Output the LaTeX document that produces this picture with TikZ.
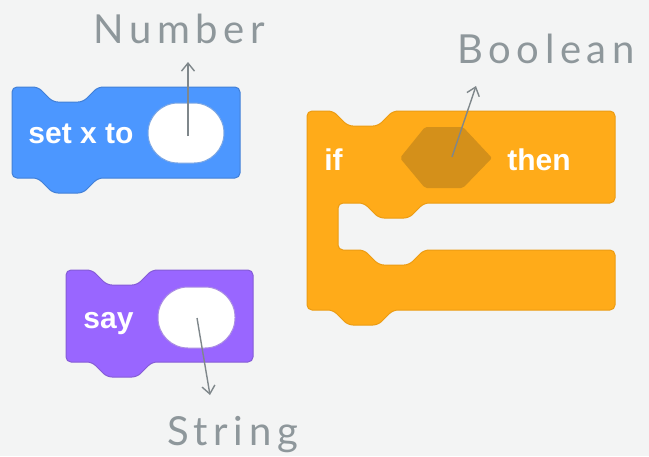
\documentclass[tikz,border=0pt]{standalone}
\usepackage{fontspec}
\setmainfont{Liberation Sans}
\newfontfamily\labelfont[LetterSpace=14]{Lato}
\usetikzlibrary{arrows.meta}
\definecolor{bgc}{HTML}{F3F4F4}
\definecolor{motion}{HTML}{4C97FF}
\definecolor{motionE}{HTML}{4280D7}
\definecolor{looks}{HTML}{9966FF}
\definecolor{looksE}{HTML}{855CD6}
\definecolor{control}{HTML}{FFAB19}
\definecolor{controlE}{HTML}{EC9C13}
\definecolor{hexc}{HTML}{D4901A}
\definecolor{labelgrey}{HTML}{8E979B}
\definecolor{arrowgrey}{HTML}{7F878B}
\begin{document}
\begin{tikzpicture}[x=0.5pt,y=-0.5pt,
  blocktext/.style={text=white,font=\bfseries\fontsize{15}{18}\selectfont,inner sep=0pt,anchor=base west},
  labeltext/.style={text=labelgrey,font=\labelfont\fontsize{20}{24}\selectfont,inner sep=0pt,anchor=base west},
  blockshape/.style={line width=0.5pt,rounded corners=2.5pt},
  slot/.style={fill=white,line width=0.5pt,rounded corners=15pt},
  pointer/.style={draw=arrowgrey,line width=0.7pt,-{Straight Barb[length=4pt,width=6.5pt]}}
]
\fill[bgc] (0,0) rectangle (649,456);
\useasboundingbox (0,0) rectangle (649,456);

% blue block: set x to
\draw[blockshape,fill=motion,draw=motionE]
  (12,130) -- (12,87) -- (38,87) -- (53,102) -- (83,102) -- (98,87) -- (240,87)
  -- (240,178) -- (98,178) -- (83,193) -- (53,193) -- (38,178) -- (12,178) -- cycle;
\node[blocktext] (setx) at (28,143) {set x to};
\draw[slot,draw=motionE!70] (148,103) rectangle (224,163);
\node[inner sep=0pt,minimum width=76*0.5pt,minimum height=60*0.5pt] (numslot) at (186,133) {};

% purple block: say
\draw[blockshape,fill=looks,draw=looksE]
  (66,315) -- (66,270) -- (92,270) -- (107,285) -- (137,285) -- (152,270) -- (253,270)
  -- (253,362) -- (152,362) -- (137,377) -- (107,377) -- (92,362) -- (66,362) -- cycle;
\node[blocktext] (say) at (83,328) {say};
\draw[slot,draw=looksE!70] (158,287) rectangle (235,348);
\node[inner sep=0pt,minimum width=77*0.5pt,minimum height=61*0.5pt] (strslot) at (196.5,317.5) {};

% orange block: if then
\draw[blockshape,fill=control,draw=controlE]
  (307,200) -- (307,111) -- (333,111) -- (348,126) -- (378,126) -- (393,111) -- (615,111)
  -- (615,203) -- (424,203) -- (409,218) -- (379,218) -- (364,203) -- (338,203)
  -- (338,250) -- (364,250) -- (379,265) -- (409,265) -- (424,250) -- (615,250)
  -- (615,310) -- (393,310) -- (378,325) -- (348,325) -- (333,310) -- (307,310) -- cycle;
\node[blocktext] (if) at (324,170) {if};
\node[blocktext] (then) at (507,170) {then};
\fill[hexc,rounded corners=1pt] (400,158) -- (425,127) -- (463,127) -- (492,158) -- (463,188) -- (425,188) -- cycle;
\coordinate (boolslot) at (446,158);

% labels
\node[labeltext] (number) at (93,43) {Number};
\node[labeltext] (boolean) at (457,63) {Boolean};
\node[labeltext] (string) at (167,445) {String};

% pointers
\coordinate (numstart) at (188,136);
\coordinate (numtip) at (188,62);
\coordinate (boolstart) at (452,157);
\coordinate (booltip) at (476,86);
\coordinate (strstart) at (197,318);
\coordinate (strtip) at (210,395);
\draw[pointer] (numstart) -- (numtip);
\draw[pointer] (boolstart) -- (booltip);
\draw[pointer] (strstart) -- (strtip);
\end{tikzpicture}
\end{document}
